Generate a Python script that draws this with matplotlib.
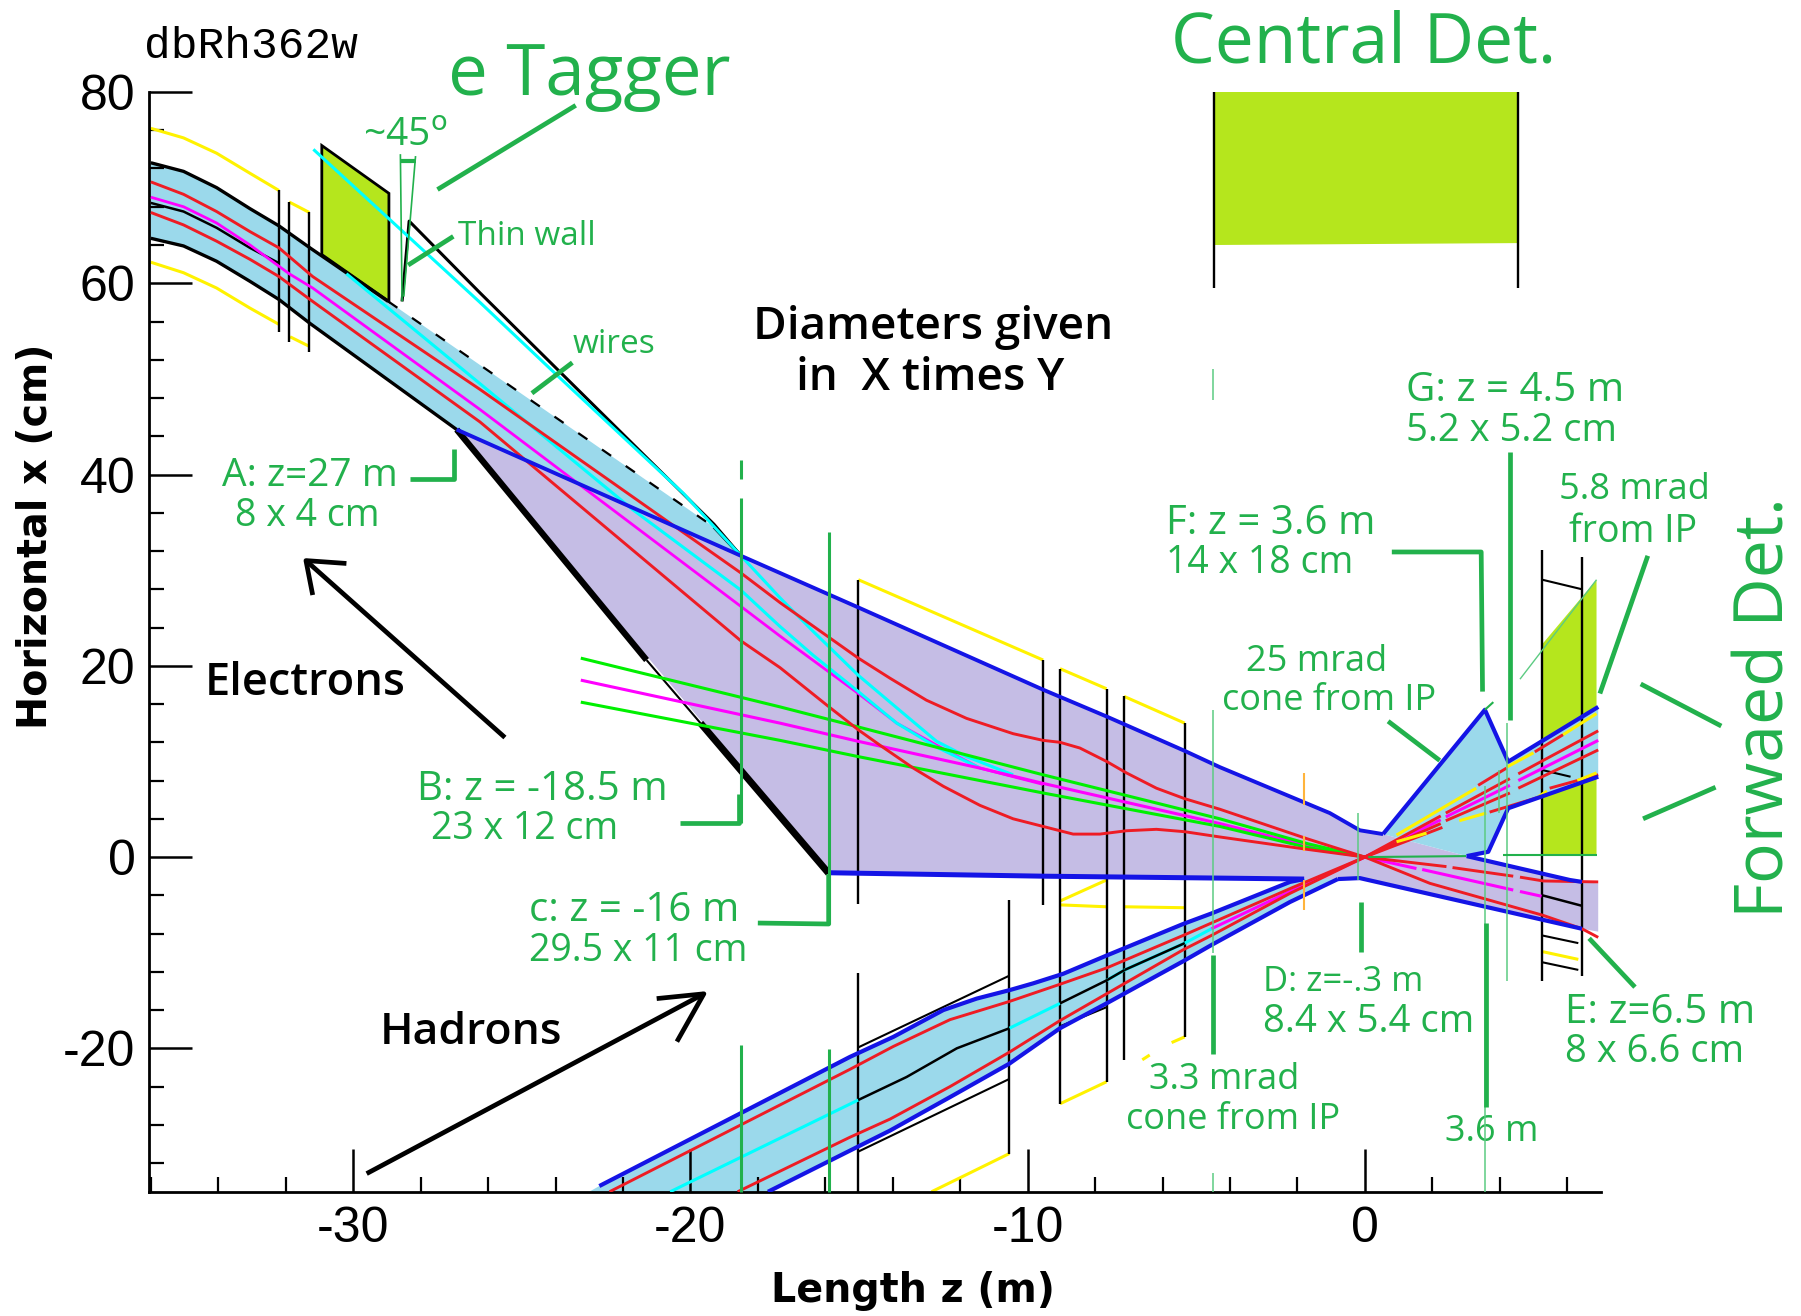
import matplotlib
matplotlib.use('Agg')
import matplotlib.pyplot as plt
from matplotlib.patches import Polygon
from matplotlib.ticker import MultipleLocator

# colours
GREEN = '#22B14C'
LIME = '#B5E61D'
SKY = '#9BD9EB'
LAVENDER = '#C5BDE5'
BLUE = '#1414E6'
RED = '#EE1C24'
YELLOW = '#FFF200'
MAGENTA = '#FF00FF'
CYAN = '#00FFFF'
LIGHT_GREEN = '#00F000'

# --- regions, (z in m, x in cm) ---
e_beam_upper = [(-36, 72.6), (-35.03, 71.7), (-34.05, 70), (-33.06, 67.8), (-32.2, 66), (-31.28, 63.7), (-28.96, 58.1)]
e_beam_end = [(-19.3, 34.5), (-18.5, 31.5)]
e_beam_lower = [(-36, 64.7), (-35.03, 63.9), (-34.05, 62.3), (-33.06, 60.2), (-32.2, 58.3), (-31.28, 55.8), (-26.93, 44.7)]
e_aperture = [(-26.93, 44.7), (-18.5, 31.5), (-17.34, 29.7), (-15.02, 26.1), (-9.54, 17.5), (-7.66, 14.7), (-5.34, 11.1),
              (-4.3, 9.4), (-1.04, 4.6), (-0.15, 2.8), (0.54, 2.4)]
e_floor = [(-15.9, -1.64), (-9.54, -2), (-4.3, -2.2), (-1.8, -2.3)]
back_floor = [(-0.8, -2.3), (-0.15, -2.2), (6.44, -7.5)]
back_roof = [(3.02, 0.1), (6.08, -2.4), (6.44, -2.6)]
e_chamber = e_aperture + [(3.02, 0.1), (6.08, -2.4), (6.44, -2.6), (6.92, -2.76), (6.92, -7.8), (6.44, -7.5), (-0.15, -2.2),
                          (-0.8, -2.3), (-1.8, -2.3), (-4.3, -2.2), (-9.54, -2), (-15.9, -1.64)]
fwd_cone = [(0.54, 2.4), (3.56, 15.4), (4.25, 9.97), (6.92, 15.7), (6.92, 8.4), (4.25, 5.1), (3.66, 0.55), (3.02, 0.1)]
h_upper = [(-23, -35), (-22.7, -34.4), (-15.27, -20.9), (-13.98, -18.8), (-12.5, -16), (-11.51, -14.8), (-10.52, -13.9),
           (-9.83, -13.2), (-8.94, -12.2), (-7.66, -10.3), (-5.39, -7), (-4.55, -5.9), (-2.22, -2.6), (-1.8, -2.3)]
h_lower = [(-17.7, -35), (-15.27, -30.7), (-14.08, -28.6), (-12.3, -25.1), (-10.54, -21.6), (-9.04, -17.9), (-7.66, -15.3),
           (-5.39, -10.9), (-4.55, -9.2), (-2.22, -4.7), (-0.8, -2.3)]
tagger = [(-30.93, 74.4), (-28.94, 69.4), (-28.94, 58.1), (-30.93, 63)]
central_det = [(-4.47, 80), (4.53, 80), (4.53, 64.2), (-4.47, 64)]
forward_det = [(5.27, 22.3), (6.87, 29), (6.87, 0.2), (5.27, 0.2)]

# --- electron side orbits ---
e_red_1 = [(-36, 70.6), (-35.03, 69.3), (-34.05, 67.5), (-33.06, 65.4), (-32.2, 63.7), (-31.2, 60.7), (-26.24, 48.9),
           (-18.5, 29.7), (-17.34, 26.6), (-15.02, 20.8), (-14.08, 18.7), (-13, 16.4), (-11.81, 14.5), (-10.43, 12.9),
           (-9.54, 12.2), (-9.04, 12), (-8.45, 11.4), (-7.66, 10), (-7.07, 8.8), (-6.18, 7.2), (-5.34, 6.1), (-4.3, 5),
           (-1.7, 1.9), (0, 0)]
e_red_2 = [(-36, 67.4), (-35.03, 66.1), (-34.05, 64.4), (-33.06, 62.5), (-32.2, 60.7), (-31.28, 58.3), (-26.24, 45.5),
           (-18.5, 22.6), (-17.34, 19.8), (-15.96, 15.9), (-15.02, 13.3), (-14.38, 11.7), (-13.39, 9.3), (-12.5, 7.4),
           (-11.41, 5.4), (-10.43, 4), (-9.54, 3.2), (-8.65, 2.4), (-7.86, 2.4), (-7.07, 2.75), (-6.18, 2.9), (-5.34, 2.65),
           (-4.3, 2.1), (-1.7, 0.8), (0, 0)]
e_magenta = [(-36, 69), (-35.03, 68), (-34.05, 66.3), (-33.06, 64), (-31.9, 61), (-31.2, 59.5), (-26.24, 46.8), (-18.5, 26.2),
             (-17.34, 23.1), (-15.02, 17.1), (-13.88, 14), (-12.7, 11.7), (-11.41, 9.3), (-9.54, 7.6)]
e_black_mid = [(-36, 68.4), (-35.03, 67.5), (-34.05, 65.8), (-33.06, 63.7), (-32.2, 62.1)]
cyan_1 = [(-31.18, 74), (-26.24, 58), (-23.9, 50.2), (-20.2, 38), (-18.5, 31.5), (-17.34, 27.1), (-16.36, 23.6),
          (-15.02, 19), (-13.88, 15.6), (-12.7, 12.1), (-11.81, 10.5), (-10.43, 8.6)]
cyan_2 = [(-30.2, 61), (-26.24, 49.5), (-21.7, 36.3), (-18.5, 27.9), (-17.34, 24.1), (-16.36, 21.1), (-15.02, 17.3),
          (-13.88, 14), (-12.7, 11.5), (-11.41, 9.3)]
black_outer = [(-28.55, 58.1), (-28.34, 66.5), (-26.24, 59), (-19.3, 34.8), (-18.5, 31.5)]
dashed_edge = [(-28.96, 58.1), (-19.3, 34.5)]

# --- synchrotron fan lines ---
fan_green_1 = [(-23.25, 20.8), (-17.34, 15.7), (-15.02, 13.6), (-9.54, 8.6), (-4.3, 4), (-1.7, 1.4), (0, 0)]
fan_green_2 = [(-23.25, 16.2), (-17.34, 12.2), (-15.02, 10.5), (-9.54, 6.7), (-4.3, 3.2), (-1.7, 1), (0, 0)]
fan_magenta = [(-23.25, 18.5), (-17.34, 14), (-15.02, 12.1), (-11.41, 9.3), (-9.54, 7.7), (-4.3, 3.5), (-1.7, 1.2), (0, 0)]

# --- hadron side orbits ---
h_red_1 = [(-22.4, -35), (-15.27, -22.2), (-13.98, -19.8), (-12.3, -17), (-10.54, -15.1), (-9.04, -13.3), (-7.66, -11.6),
           (-5.39, -8.2), (-4.55, -6.9), (-2.22, -3.3), (0, 0)]
h_red_2 = [(-18.6, -35), (-15.27, -29.3), (-14.08, -27.4), (-12.3, -24), (-10.54, -20.4), (-9.04, -17.1), (-7.66, -14.3),
           (-5.39, -9.7), (-4.55, -8.2), (-2.22, -3.8), (0, 0)]
h_cyan = [[(-20.6, -35), (-15.02, -25.4)], [(-10.54, -17.9), (-9.04, -15.3)], [(-7.66, -12.9), (-7.12, -11.8), (-5.34, -9), (-4.55, -7.5)]]
h_black = [[(-15.02, -25.4), (-13.59, -23), (-12.1, -20), (-10.54, -17.9)], [(-9.04, -15.3), (-7.66, -12.9), (-7.12, -11.8)]]
h_black_2 = [(-7.12, -11.8), (-5.34, -9)]
h_magenta = [(-4.55, -7.5), (-2.22, -3.6), (0, 0)]

# --- forward side ---
fwd_red_a = [[(0, 0), (2.25, 4.3)], [(2.4, 4.6), (4.3, 8.2)], [(4.55, 8.7), (6.92, 13.2)]]
fwd_mag = [[(0, 0), (2.25, 3.9)], [(2.4, 4.2), (4.3, 7.5)], [(4.55, 8), (6.92, 12.2)]]
fwd_red_c = [[(0, 0), (2.25, 3.5)], [(2.4, 3.8), (4.3, 6.7)], [(4.55, 7.2), (6.92, 11.2)]]
fwd_red_low = [[(0, 0), (2.3, 3.1)], [(3.7, 4.7), (5.1, 6.2)], [(5.48, 7.2), (6.92, 8.6)]]
fwd_yellow = [[(0.94, 2.3), (3.3, 7.2)], [(4.2, 9.4), (5, 10.9)], [(5.88, 12.8), (6.87, 15)], [(0.94, 1.6), (1.83, 2.5)],
              [(2.8, 3.8), (3.6, 4.6)], [(5.1, 6.2), (5.4, 6.9)], [(6.3, 8), (6.87, 8.8)]]
fwd_red_top = [[(3.36, 7.5), (4.2, 9.3)], [(5.04, 11), (5.88, 12.8)]]
back_red_1 = [[(0, 0), (2.42, -1)], [(2.6, -1.1), (4.4, -2)], [(4.6, -2.1), (5.29, -2.5), (6.92, -2.6)]]
back_red_2 = [(0, 0), (1.93, -2.75), (5.29, -6.1), (6.44, -7.5), (6.92, -8.4)]
back_magenta = [[(0, 0), (1.53, -1.2)], [(1.7, -1.3), (4.4, -3.45)], [(4.6, -3.6), (5.24, -4.1)]]
back_black = [(5.26, -4), (6.44, -5.1)]

# --- magnet segments ---
yellow_segments = [
    [(-36, 76.2), (-35.03, 75.2), (-34.05, 73.6), (-33.06, 71.5), (-32.2, 69.7)], [(-31.9, 68.5), (-31.3, 67.4)],
    [(-36, 62.2), (-35.03, 61.1), (-34.05, 59.5), (-33.06, 57.4), (-32.2, 55.7)], [(-31.87, 54.4), (-31.3, 53.4)],
    [(-15.02, 29), (-9.54, 20.6)], [(-9.04, 19.7), (-7.66, 17.6)], [(-7.14, 16.8), (-5.34, 14)],
    [(-9.04, -4.6), (-7.66, -2.4)], [(-9.04, -5), (-7.66, -5.2)], [(-7.12, -5.2), (-5.34, -5.3)],
    [(-9.04, -25.8), (-7.66, -23.5)], [(-6.6, -21.2), (-6.38, -20.7)], [(-5.73, -19.4), (-5.34, -18.8)],
    [(-12.85, -35), (-10.54, -31)], [(5.28, -9.9), (6.33, -10.7)],
]
black_verticals = [
    (-32.2, 54.9, 69.7), (-31.9, 53.9, 68.5), (-31.3, 52.8, 67.4), (-15.02, -4.9, 29), (-15.02, -35, -12.1),
    (-10.54, -31, -4.5), (-9.54, -5, 20.6), (-9.04, -25.8, 19.7), (-7.66, -23.5, 17.6), (-7.14, -21.2, 16.8),
    (-5.34, -18.8, 14), (-4.47, 59.5, 80), (4.53, 59.5, 80), (5.26, -13, 32.1), (6.44, -12.4, 31.4),
]
black_diagonals = [
    [(5.26, 29), (6.44, 28)], [(5.26, 9.1), (6.1, 8.4)], [(5.26, -8.2), (6.33, -9)], [(5.26, -11), (6.33, -11.8)],
    [(-15.02, -19.9), (-10.54, -12.4)], [(-15.02, -30.8), (-10.54, -23.2)], [(-9.04, -17.7), (-7.66, -15.7)],
]
green_verticals = [
    (-18.5, 39.5, 41.5), (-18.5, 3.6, 37.5), (-18.5, -35, -19.7), (-15.88, -7, 34), (-15.88, -35, -20.1),
]
thin_green_verticals = [(-4.5, -10, 15.4), (-4.5, 47.8, 51), (-4.5, -35, -33), (-0.2, -2.4, 4.6), (4.23, -13, 14),
                        (3.56, -35, 7.4), (3.98, 4.6, 9.1)]
orange_verticals = [(-1.8, 5.4, 8.8), (-1.8, 0.6, 2.2), (-1.8, -5.5, -2.4)]

# --- leader lines drawn on top of the chart ---
leaders = [
    [(-23.4, 78.6), (-27.5, 69.8)],
    [(-27.03, 64.9), (-28.37, 61.9)],
    [(-23.5, 51.7), (-24.7, 48.5)],
    [(-27, 42.7), (-27, 39.5), (-28.3, 39.5)],
    [(-18.55, 6.6), (-18.55, 3.6), (-20.3, 3.6)],
    [(-15.9, -1.8), (-15.9, -7), (-18, -6.9)],
    [(0.8, 31.9), (3.45, 31.9), (3.49, 17.3)],
    [(4.3, 42.4), (4.3, 14.3)],
    [(8.39, 31.5), (6.97, 17.1)],
    [(0.69, 14.2), (2.22, 10.1)],
    [(8.18, 18.1), (10.57, 13.7)],
    [(8.25, 4), (10.4, 7.3)],
    [(6.65, -8.5), (8.01, -13.6)],
    [(-0.1, -4.7), (-0.1, -9.9)],
    [(-4.5, -10.2), (-4.5, -20.6)],
    [(3.6, -6.9), (3.6, -26.1)],
]
arrows = [
    [(-25.5, 12.5), (-31.4, 31)], [(-30.2, 30.7), (-31.4, 31), (-31.2, 27.4)],
    [(-29.6, -33.1), (-19.6, -14.3)], [(-21, -14.8), (-19.6, -14.3), (-20.4, -19.3)],
]
angle_marks = [[(-28.6, 73.5), (-28.55, 58.1)], [(-28.15, 73.3), (-28.5, 58.6)]]

# tick labels
x_major = [-30, -20, -10, 0]
y_major = [-20, 0, 20, 40, 60, 80]


def line(pts, color='k', lw=2.0, **kw):
    zs = [p[0] for p in pts]
    xs = [p[1] for p in pts]
    return ax.plot(zs, xs, color=color, lw=lw, solid_capstyle='butt', **kw)


def vlines(items, color, lw, **kw):
    for z, lo, hi in items:
        ax.plot([z, z], [lo, hi], color=color, lw=lw, solid_capstyle='butt', **kw)


def note(z, x, s, size, **kw):
    ax.text(z, x - 0.2, s, family='Open Sans', color=GREEN, va='center', fontsize=size, **kw)


fig = plt.figure(figsize=(18.01, 13.16), dpi=100)
ax = fig.add_axes([0.0830, 0.0944, 0.8059, 0.8357])
ax.set_xlim(-36.04, 7)
ax.set_ylim(-35, 80)

# filled regions
ax.add_patch(Polygon(forward_det, fc=LIME, ec='none', zorder=1))
ax.add_patch(Polygon(e_chamber, fc=LAVENDER, ec='none', zorder=1))
ax.add_patch(Polygon(e_beam_upper + e_beam_end + e_beam_lower[::-1], fc=SKY, ec='none', zorder=1.2))
ax.add_patch(Polygon(fwd_cone, fc=SKY, ec='none', zorder=1.2))
ax.add_patch(Polygon(h_upper + h_lower[::-1], fc=SKY, ec='none', zorder=1.2))
ax.add_patch(Polygon(tagger, fc=LIME, ec='k', lw=2, zorder=1.5))
ax.add_patch(Polygon(central_det, fc=LIME, ec='none', zorder=1.5))

# envelope edges
line(e_beam_upper, 'k', 2.4, zorder=3)
line(e_beam_end, 'k', 2.4, zorder=3)
line(e_beam_lower, 'k', 2.4, zorder=3)
line(black_outer, 'k', 2.2, zorder=3)
line(dashed_edge, 'k', 1.6, linestyle=(0, (5, 8)), zorder=3)
line(e_black_mid, 'k', 1.8, zorder=3)
line([(-26.93, 44.7), (-21.3, 20.6)], 'k', 4.5, zorder=3)
line([(-21.3, 20.6), (-19.7, 14)], 'k', 1.5, zorder=3)
line([(-19.7, 14), (-15.9, -1.7)], 'k', 5, zorder=3)

for seg in yellow_segments:
    line(seg, YELLOW, 2.2, zorder=2)
for seg in black_diagonals:
    line(seg, 'k', 1.5, zorder=2)
vlines(black_verticals, 'k', 1.7, zorder=4)

# orbits
line(e_magenta, MAGENTA, 2, zorder=5)
line(cyan_1, CYAN, 2.2, zorder=5)
line(cyan_2, CYAN, 2.2, zorder=5)
line(fan_magenta, MAGENTA, 2.2, zorder=5)
line(fan_green_1, LIGHT_GREEN, 2.2, zorder=5)
line(fan_green_2, LIGHT_GREEN, 2.2, zorder=5)
line(e_red_1, RED, 2.1, zorder=6)
line(e_red_2, RED, 2.1, zorder=6)
for seg in h_cyan:
    line(seg, CYAN, 2.2, zorder=5)
for seg in h_black:
    line(seg, 'k', 1.8, zorder=5)
line(h_black_2, 'k', 1.8, zorder=5)
line(h_magenta, MAGENTA, 2.2, zorder=5)
line(h_red_1, RED, 2.1, zorder=6)
line(h_red_2, RED, 2.1, zorder=6)
for seg in back_red_1:
    line(seg, RED, 2.1, zorder=6)
line(back_red_2, RED, 2.1, zorder=6)
for seg in back_magenta:
    line(seg, MAGENTA, 2.2, zorder=5)
line(back_black, 'k', 1.8, zorder=5)
for seg in fwd_mag:
    line(seg, MAGENTA, 2.2, zorder=5)
for seg in fwd_red_a + fwd_red_c + fwd_red_low + fwd_red_top:
    line(seg, RED, 2.1, zorder=6)
for seg in fwd_yellow:
    line(seg, YELLOW, 2.2, zorder=6)

# blue apertures
line(e_aperture, BLUE, 2.8, zorder=7)
line(e_floor, BLUE, 3.6, zorder=7)
line(h_upper[1:], BLUE, 3, zorder=7)
line(h_lower, BLUE, 3, zorder=7)
line(back_floor, BLUE, 3, zorder=7)
line(fwd_cone[:4], BLUE, 3, zorder=7)
line(fwd_cone[4:], BLUE, 3, zorder=7)
line(back_roof, BLUE, 3, zorder=7)

# thin green / orange construction lines
vlines(green_verticals, GREEN, 2.2, zorder=8, clip_on=False)
vlines(thin_green_verticals, '#5CCB82', 1.1, zorder=8, clip_on=False)
vlines(orange_verticals, '#FFB43C', 1.5, zorder=8)
line([(0.1, 0), (3, 0.1)], GREEN, 1.5, zorder=8)
line([(4.1, 0.2), (6.87, 0.2)], GREEN, 1.5, zorder=8)
line([(3.56, 15.4), (3.81, 16.2)], GREEN, 1.5, zorder=8)
line([(4.6, 18.6), (6.87, 29)], '#5CCB82', 1, zorder=8)
for seg in angle_marks:
    line(seg, GREEN, 1.2, zorder=8)
line([(-28.6, 72.8), (-28.15, 72.8)], GREEN, 3, zorder=8)

# leaders and arrows
for seg in leaders:
    line(seg, GREEN, 3.4, zorder=9, clip_on=False)
for seg in arrows:
    line(seg, 'k', 3.4, zorder=9)

# axes
for side in ['top', 'right']:
    ax.spines[side].set_visible(False)
ax.spines['left'].set_linewidth(2)
ax.spines['bottom'].set_linewidth(2)
ax.set_xticks(x_major)
ax.set_yticks(y_major)
ax.xaxis.set_minor_locator(MultipleLocator(2))
ax.yaxis.set_minor_locator(MultipleLocator(4))
ax.tick_params(which='major', direction='in', length=31, width=1.8, pad=10)
ax.tick_params(which='minor', direction='in', length=11, width=1.6)
ax.set_xticklabels([str(v) for v in x_major], family='Liberation Sans', fontsize=36)
ax.set_yticklabels([str(v) for v in y_major], family='Liberation Sans', fontsize=36)

# text
ax.text(-36.2, 84.8, 'dbRh362w', family='Liberation Mono', fontsize=32, va='center')
ax.text(-13.4, -45.4, 'Length z (m)', family='DejaVu Sans', fontsize=28.5, weight='bold', ha='center', va='center')
ax.text(-39.4, 33.5, 'Horizontal x (cm)', family='DejaVu Sans', fontsize=28.5, weight='bold', rotation=90, ha='center', va='center')

note(-27.2, 81.8, 'e Tagger', 51)
note(-5.76, 85.2, 'Central Det.', 50)
note(11.88, 15.8, 'Forwaed Det.', 49, rotation=90, ha='center')

black_mid = dict(family='Open Sans', weight='semibold', va='center')
ax.text(-12.8, 55.4, 'Diameters given', ha='center', fontsize=33, **black_mid)
ax.text(-12.9, 50, 'in  X times Y', ha='center', fontsize=33, **black_mid)
ax.text(-34.4, 18.1, 'Electrons', fontsize=32.5, **black_mid)
ax.text(-29.2, -18.3, 'Hadrons', fontsize=32, **black_mid)

note(-29.7, 75.6, '~45$^{\\rm o}$', 28)
note(-26.9, 65.1, 'Thin wall', 24)
note(-23.5, 53.8, 'wires', 24)
note(-33.9, 40, 'A: z=27 m', 28)
note(-33.5, 35.9, '8 x 4 cm', 27)
note(-28.1, 7.2, 'B: z = -18.5 m', 29)
note(-27.7, 3.1, '23 x 12 cm', 27)
note(-24.8, -5.4, 'c: z = -16 m', 29)
note(-24.8, -9.6, '29.5 x 11 cm', 27)
note(-5.9, 35.1, 'F: z = 3.6 m', 29)
note(-5.9, 30.9, '14 x 18 cm', 27)
note(1.23, 49, 'G: z = 4.5 m', 29)
note(1.23, 44.8, '5.2 x 5.2 cm', 27.5)
note(8.0, 38.6, '5.8 mrad', 26, ha='center')
note(7.94, 34.2, 'from IP', 27, ha='center')
note(-1.43, 20.6, '25 mrad', 26, ha='center')
note(-1.06, 16.5, 'cone from IP', 26, ha='center')
note(-3.03, -12.9, 'D: z=-.3 m', 25)
note(-3.03, -17.1, '8.4 x 5.4 cm', 27.5)
note(5.93, -16.1, 'E: z=6.5 m', 29)
note(5.93, -20.2, '8 x 6.6 cm', 27.5)
note(-4.16, -23.1, '3.3 mrad', 26, ha='center')
note(-3.92, -27.3, 'cone from IP', 26, ha='center')
note(3.75, -28.5, '3.6 m', 26, ha='center')

fig.savefig('out.png', dpi=100)
